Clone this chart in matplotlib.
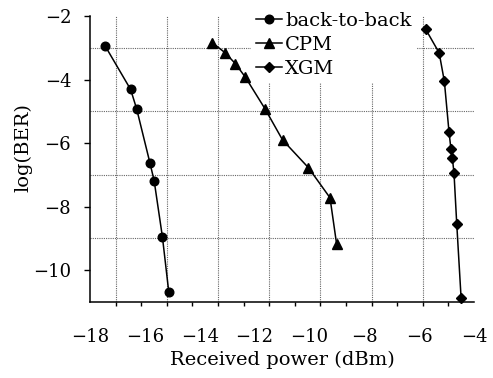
import matplotlib

matplotlib.use("Agg")
import matplotlib.pyplot as plt
import numpy as np
from matplotlib.ticker import FixedLocator, NullFormatter

# received power (dBm) and log(BER)
B2B_POWER = [-17.45, -16.52, -16.30, -15.81, -15.66, -15.36, -15.13]
B2B_LOGBER = [-2.94, -4.31, -4.92, -6.64, -7.19, -8.95, -10.67]

CPM_POWER = [-13.54, -13.07, -12.70, -12.34, -11.62, -10.98, -10.04, -9.25, -9.01]
CPM_LOGBER = [-2.84, -3.16, -3.50, -3.92, -4.92, -5.90, -6.77, -7.72, -9.17]

XGM_POWER = [-5.76, -5.27, -5.08, -4.91, -4.84, -4.79, -4.73, -4.63, -4.47]
XGM_LOGBER = [-2.42, -3.16, -4.06, -5.66, -6.19, -6.47, -6.93, -8.53, -10.88]

X_LABELS = [-18, -16, -14, -12, -10, -8, -6, -4]
Y_LABELS = [-2, -4, -6, -8, -10]
Y_GRID = [-3, -5, -7, -9]

SERIES = [
    ("back-to-back", B2B_POWER, B2B_LOGBER, "o", 6.2),
    ("CPM", CPM_POWER, CPM_LOGBER, "^", 6.5),
    ("XGM", XGM_POWER, XGM_LOGBER, "D", 5.0),
]

plt.rcParams.update(
    {
        "font.family": "serif",
        "font.serif": ["DejaVu Serif"],
        "axes.unicode_minus": True,
    }
)

fig = plt.figure(figsize=(4.93, 3.78), dpi=100)
ax = fig.add_axes([90 / 493, 1 - 302 / 378, 384 / 493, 286 / 378])

for label, xs, ys, marker, ms in SERIES:
    ax.plot(xs, ys, color="black", linewidth=1.1, marker=marker,
            markersize=ms, label=label, clip_on=False, zorder=3)

ax.set_xlim(-18, -4)
ax.set_ylim(-11, -2)

# the original axis has 15 tick intervals under the 8 labels
tick_step = 14 / 15
x_ticks = -18 + tick_step * np.arange(16)
ax.xaxis.set_major_locator(FixedLocator(X_LABELS))
ax.xaxis.set_minor_locator(FixedLocator(x_ticks))
ax.xaxis.set_minor_formatter(NullFormatter())
ax.tick_params(axis="x", which="major", length=0, pad=19, labelsize=13)
ax.tick_params(axis="x", which="minor", length=3.0, width=1.0, direction="out")

ax.yaxis.set_major_locator(FixedLocator(Y_LABELS))
ax.yaxis.set_minor_locator(FixedLocator(Y_GRID))
ax.tick_params(axis="y", which="major", length=4.5, width=1.0, pad=9, labelsize=13)
ax.tick_params(axis="y", which="minor", length=0)

# dotted grid: every other x tick, odd y values
for x in x_ticks[1:-1:2]:
    ax.axvline(x, color="0.4", linestyle=(0, (1, 1)), linewidth=0.8, zorder=1)
for y in Y_GRID:
    ax.axhline(y, color="0.4", linestyle=(0, (1, 1)), linewidth=0.8, zorder=1)

ax.spines["top"].set_visible(False)
ax.spines["right"].set_visible(False)
for side in ("left", "bottom"):
    ax.spines[side].set_linewidth(1.1)

ax.set_xlabel("Received power (dBm)", fontsize=14, labelpad=3)
ax.set_ylabel("log(BER)", fontsize=14)
ax.yaxis.set_label_coords(-0.15, 0.54)

leg = ax.legend(
    loc="upper left",
    bbox_to_anchor=(0.42, 1.03),
    fontsize=14,
    handlelength=1.35,
    handletextpad=0.15,
    labelspacing=0.3,
    borderpad=0.25,
    borderaxespad=0,
    frameon=True,
    fancybox=False,
)
leg.get_frame().set_edgecolor("none")
leg.get_frame().set_facecolor("white")
leg.get_frame().set_alpha(1)
leg.set_zorder(4)

fig.savefig("out.png", dpi=100)
